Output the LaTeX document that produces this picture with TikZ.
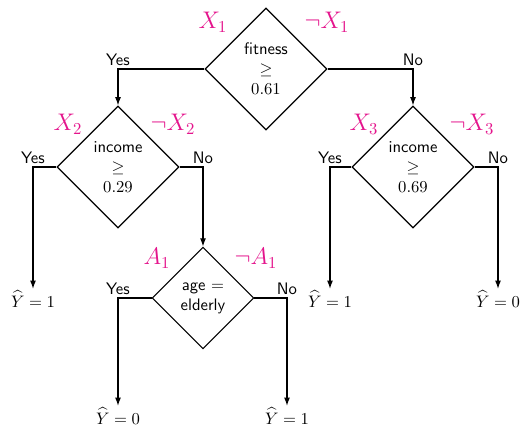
\documentclass[tikz,border=0pt]{standalone}
\usepackage{amsmath,amssymb}
\usetikzlibrary{shapes.geometric,arrows.meta}
\definecolor{lblpink}{RGB}{228,20,140}
\begin{document}
\begin{tikzpicture}[x=0.6pt,y=-0.6pt,
  dia/.style={draw,diamond,line width=0.7pt,inner sep=0pt,align=center,font=\sffamily},
  arr/.style={line width=0.7pt,-{Latex[length=5pt,width=3.6pt]}},
  lbl/.style={font=\sffamily,inner sep=1.5pt},
  var/.style={text=lblpink,font=\Large},
  leaf/.style={inner sep=1pt}]
\useasboundingbox (0,0) rectangle (524,427);
\node[dia,minimum width=73.2pt,minimum height=73.2pt] (d1) at (266,69) {fitness\\$\geq$\\$0.61$};
\node[dia,minimum width=73.2pt,minimum height=73.2pt] (d2) at (118,167) {income\\$\geq$\\$0.29$};
\node[dia,minimum width=73.2pt,minimum height=73.2pt] (d3) at (413,167) {income\\$\geq$\\$0.69$};
\node[dia,minimum width=61pt,minimum height=61pt] (d4) at (203,298) {age $=$\\elderly};
\node[leaf] (l1) at (33,299) {$\widehat{Y}=1$};
\node[leaf] (l2) at (330,299) {$\widehat{Y}=1$};
\node[leaf] (l3) at (498,299) {$\widehat{Y}=0$};
\node[leaf] (l4) at (118,416) {$\widehat{Y}=0$};
\node[leaf] (l5) at (287,416) {$\widehat{Y}=1$};
\draw[arr] (d1.west) -| node[pos=0.5,above,lbl]{Yes} (d2.north);
\draw[arr] (d1.east) -| node[pos=0.5,above,lbl]{No} (d3.north);
\draw[arr] (d2.west) -| node[pos=0.5,above,lbl]{Yes} (l1.north);
\draw[arr] (d2.east) -| node[pos=0.5,above,lbl]{No} (d4.north);
\draw[arr] (d3.west) -| node[pos=0.5,above,lbl]{Yes} (l2.north);
\draw[arr] (d3.east) -| node[pos=0.5,above,lbl]{No} (l3.north);
\draw[arr] (d4.west) -| node[pos=0.5,above,lbl]{Yes} (l4.north);
\draw[arr] (d4.east) -| node[pos=0.5,above,lbl]{No} (l5.north);
\node[var] (x1) at (213,22) {$X_1$};
\node[var] (nx1) at (327,22) {$\neg X_1$};
\node[var] (x2) at (68,124) {$X_2$};
\node[var] (nx2) at (173,124) {$\neg X_2$};
\node[var] (x3) at (364,124) {$X_3$};
\node[var] (nx3) at (472,124) {$\neg X_3$};
\node[var] (a1) at (157,258) {$A_1$};
\node[var] (na1) at (256,258) {$\neg A_1$};
\end{tikzpicture}
\end{document}
